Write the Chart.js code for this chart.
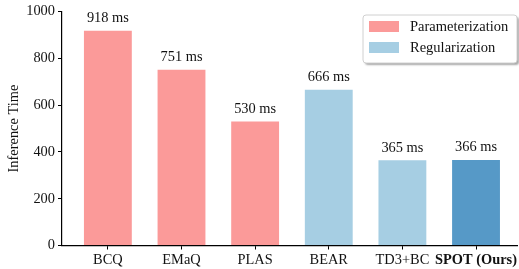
<!DOCTYPE html>
<html>
<head>
<meta charset="utf-8">
<script src="https://cdn.jsdelivr.net/npm/chart.js@4/dist/chart.umd.min.js"></script>
<style>
  html, body { margin: 0; padding: 0; background: #fff; }
  #wrap { width: 519px; height: 269px; position: relative; }
</style>
</head>
<body>
<div id="wrap"><canvas id="chart"></canvas></div>
<script>
const methods = ['BCQ', 'EMaQ', 'PLAS', 'BEAR', 'TD3+BC', 'SPOT (Ours)'];
const inferenceMs = [918, 751, 530, 666, 365, 366];
const groups = ['Parameterization', 'Parameterization', 'Parameterization', 'Regularization', 'Regularization', 'Ours'];
const yTicks = [0, 200, 400, 600, 800, 1000];

const groupColors = { Parameterization: '#fb9a99', Regularization: '#a6cee3', Ours: '#5699c7' };
const legendItems = ['Parameterization', 'Regularization'];
const FONT = '"Liberation Serif", "Times New Roman", serif';
const FS = 14.4;

const valueLabels = {
  id: 'valueLabels',
  afterDatasetsDraw(chart) {
    const ctx = chart.ctx;
    const meta = chart.getDatasetMeta(0);
    ctx.save();
    ctx.font = FS + 'px ' + FONT;
    ctx.fillStyle = '#111';
    ctx.textAlign = 'center';
    ctx.textBaseline = 'alphabetic';
    meta.data.forEach((bar, i) => {
      ctx.fillText(inferenceMs[i] + ' ms', bar.x, bar.y - 8.5);
    });
    ctx.restore();
  }
};

const boxLegend = {
  id: 'boxLegend',
  afterDraw(chart) {
    const ctx = chart.ctx;
    const x = 363, y = 15, w = 154, h = 48;
    ctx.save();
    ctx.shadowColor = 'rgba(0,0,0,0.35)';
    ctx.shadowOffsetX = 2;
    ctx.shadowOffsetY = 2;
    ctx.shadowBlur = 2;
    ctx.fillStyle = '#fff';
    ctx.beginPath();
    ctx.roundRect(x, y, w, h, 3);
    ctx.fill();
    ctx.shadowColor = 'transparent';
    ctx.strokeStyle = '#d0d0d0';
    ctx.lineWidth = 1;
    ctx.stroke();
    ctx.font = '14.5px ' + FONT;
    ctx.textBaseline = 'middle';
    ctx.textAlign = 'left';
    legendItems.forEach((name, i) => {
      const ry = y + 6 + i * 21;
      ctx.fillStyle = groupColors[name];
      ctx.fillRect(x + 6, ry, 30, 11);
      ctx.fillStyle = '#111';
      ctx.fillText(name, x + 47, ry + 6);
    });
    ctx.restore();
  }
};

new Chart(document.getElementById('chart'), {
  type: 'bar',
  data: {
    datasets: [{
      data: inferenceMs.map((v, i) => ({ x: i, y: v })),
      backgroundColor: groups.map(g => groupColors[g]),
      borderWidth: 0,
      barPercentage: 0.65,
      categoryPercentage: 1
    }]
  },
  options: {
    responsive: true,
    maintainAspectRatio: false,
    animation: false,
    layout: { padding: { top: 7.5, left: 0, right: 0, bottom: 0 } },
    plugins: { legend: { display: false }, tooltip: { enabled: false } },
    scales: {
      x: {
        type: 'linear',
        offset: false,
        min: -0.623,
        max: 5.57,
        afterBuildTicks: s => { s.ticks = methods.map((m, i) => ({ value: i })); },
        afterFit: s => { s.height = 23.5; },
        grid: { offset: false, drawOnChartArea: false, drawTicks: true, tickLength: 4, color: '#000', lineWidth: 1 },
        border: { display: true, color: '#000', width: 1.2 },
        ticks: {
          padding: 2,
          color: '#111',
          maxRotation: 0,
          autoSkip: false,
          font: ctx => ({ family: FONT, size: FS, weight: ctx.index === 5 ? 'bold' : 'normal' }),
          callback: v => methods[v]
        }
      },
      y: {
        min: 0,
        max: 1000,
        afterBuildTicks: s => { s.ticks = yTicks.map(v => ({ value: v })); },
        afterFit: s => { s.width = 62; },
        grid: { drawOnChartArea: false, drawTicks: true, tickLength: 4, color: '#000', lineWidth: 1 },
        border: { display: true, color: '#000', width: 1.2 },
        title: {
          display: true,
          text: 'Inference Time',
          color: '#111',
          font: { family: FONT, size: FS },
          padding: { top: 6, bottom: 0 }
        },
        ticks: { padding: 3, color: '#111', font: { family: FONT, size: FS }, callback: v => String(v) }
      }
    }
  },
  plugins: [valueLabels, boxLegend]
});
</script>
</body>
</html>
